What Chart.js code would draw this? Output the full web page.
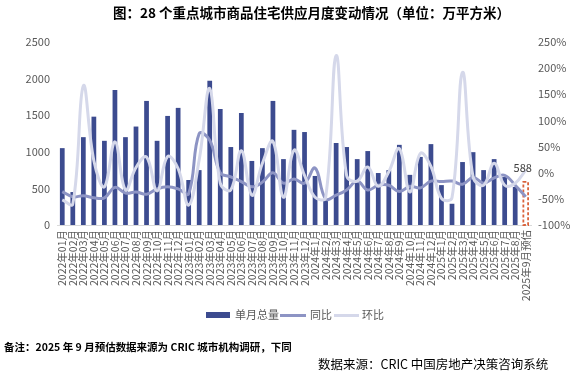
<!DOCTYPE html>
<html><head><meta charset="utf-8">
<script src="https://cdn.jsdelivr.net/npm/chart.js@4/dist/chart.umd.min.js"></script>
<style>
html,body{margin:0;padding:0;background:#fff;}
body{width:586px;height:377px;overflow:hidden;position:relative;font-family:"Noto Sans CJK SC",sans-serif;}
#c{position:absolute;left:0;top:0;}
.title{position:absolute;left:113px;top:4px;font-size:13.5px;line-height:16px;font-weight:bold;color:#000;white-space:nowrap;}
.legend{position:absolute;top:307px;left:0;width:586px;height:15px;font-size:11px;color:#595959;}
.sw{position:absolute;}
.lt{position:absolute;top:0;line-height:15px;white-space:nowrap;}
.note{position:absolute;left:4px;top:340px;font-size:10.5px;line-height:14px;font-weight:bold;color:#000;white-space:nowrap;}
.src{position:absolute;left:318px;top:356px;font-size:12.5px;line-height:16px;color:#000;white-space:nowrap;}
</style></head>
<body>
<canvas id="c" width="586" height="377"></canvas>
<div class="title">图：28 个重点城市商品住宅供应月度变动情况（单位：万平方米）</div>
<div class="legend">
  <div class="sw" style="left:206px;top:5px;width:24px;height:6px;background:#3c4b8f"></div>
  <div class="lt" style="left:235px">单月总量</div>
  <div class="sw" style="left:280px;top:7px;width:26px;height:3px;background:#8d94c4"></div>
  <div class="lt" style="left:310px">同比</div>
  <div class="sw" style="left:334px;top:7px;width:25px;height:3px;background:#d5d8ea"></div>
  <div class="lt" style="left:362px">环比</div>
</div>
<div class="note">备注：2025 年 9 月预估数据来源为 CRIC 城市机构调研，下同</div>
<div class="src">数据来源：CRIC 中国房地产决策咨询系统</div>
<script>
const categories = [
  "2022年01月","2022年02月","2022年03月","2022年04月","2022年05月","2022年06月",
  "2022年07月","2022年08月","2022年09月","2022年10月","2022年11月","2022年12月",
  "2023年01月","2023年02月","2023年03月","2023年04月","2023年05月","2023年06月",
  "2023年07月","2023年08月","2023年09月","2023年10月","2023年11月","2023年12月",
  "2024年1月","2024年2月","2024年3月","2024年4月","2024年5月","2024年6月",
  "2024年7月","2024年8月","2024年9月","2024年10月","2024年11月","2024年12月",
  "2025年1月","2025年2月","2025年3月","2025年4月","2025年5月","2025年6月",
  "2025年7月","2025年8月","2025年9月预估"
];
const monthlyTotal = [
  1050,450,1200,1480,1150,1845,1200,1345,1695,1150,1490,1600,
  615,750,1970,1585,1065,1530,875,1050,1695,900,1300,1270,
  670,350,1120,1065,900,1010,710,750,1095,685,930,1105,
  545,290,860,995,750,900,655,520,588
];
const yoyPct = [
  -36,-46,-44,-48,-48,-28,-39,-37,-41,-31,-27,-31,
  -40,75,62,0,-8,-17,-27,-18,0,-20,-12,-20,
  9,-50,-43,-33,-16,-33,-24,-24,-36,-26,-29,-16,
  -17,-16,-22,-9,-20,-10,-5,-24,-46
];
const momPct = [
  -52,-60,166,23,-27,59,-33,10,30,-35,31,8,
  -62,25,161,-20,-33,42,-43,18,60,-47,43,-5,
  -47,-48,224,-6,-16,11,-26,2,46,-37,37,12,
  -49,-48,192,-8,-24,18,-24,-20,5
];
const leftTicks = [0,500,1000,1500,2000,2500];
const rightTicks = [-100,-50,0,50,100,150,200,250];

const BAR = '#3c4b8f', YOY = '#8d94c4', MOM = '#d5d8ea', EST = '#d9623b';
const lastIdx = monthlyTotal.length - 1;

const estimatePlugin = {
  id: 'estimate',
  afterDatasetDraw(chart, args) {
    if (args.index !== 0) return;
    const el = args.meta.data[lastIdx];
    const p = el.getProps(['x','y','base','width'], true);
    const ctx = chart.ctx;
    ctx.save();
    ctx.fillStyle = '#ffffff';
    ctx.fillRect(p.x - p.width/2, p.y, p.width, p.base - p.y);
    ctx.setLineDash([3,2]);
    ctx.strokeStyle = EST;
    ctx.lineWidth = 1.8;
    ctx.strokeRect(p.x - p.width/2, p.y, p.width, p.base - p.y);
    ctx.restore();
  },
  afterDatasetsDraw(chart) {
    const el = chart.getDatasetMeta(0).data[lastIdx];
    const p = el.getProps(['x','y'], true);
    const ctx = chart.ctx;
    ctx.save();
    ctx.font = '11px "Noto Sans CJK SC"';
    ctx.fillStyle = '#404040';
    ctx.textAlign = 'center';
    ctx.textBaseline = 'alphabetic';
    ctx.fillText(String(monthlyTotal[lastIdx]), p.x - 3, p.y - 10);
    ctx.restore();
  }
};

Chart.defaults.font.family = '"Noto Sans CJK SC", sans-serif';
Chart.defaults.color = '#595959';

new Chart(document.getElementById('c'), {
  data: {
    labels: categories,
    datasets: [
      { type:'bar', label:'单月总量', data: monthlyTotal, yAxisID:'y', order:3,
        backgroundColor: monthlyTotal.map((v,i)=> i===lastIdx ? 'rgba(0,0,0,0)' : BAR),
        barPercentage:0.45, categoryPercentage:1.0, borderWidth:0 },
      { type:'line', label:'同比', data: yoyPct, yAxisID:'y1', order:2,
        borderColor: YOY, borderWidth:3, tension:0.4, pointRadius:0, fill:false },
      { type:'line', label:'环比', data: momPct, yAxisID:'y1', order:1,
        borderColor: MOM, borderWidth:3, tension:0.4, pointRadius:0, fill:false }
    ]
  },
  options: {
    responsive:false, animation:false, devicePixelRatio:1,
    layout:{ padding:{ left:0, right:0, top:42, bottom:72 } },
    plugins:{ legend:{display:false}, tooltip:{enabled:false}, title:{display:false} },
    scales:{
      x:{
        grid:{display:false, drawTicks:false},
        border:{display:true, color:'#d9d9d9', width:1},
        ticks:{ autoSkip:false, minRotation:90, maxRotation:90, padding:5, font:{size:10.5}, color:'#595959' },
        afterFit(s){ s.height = 80; }
      },
      y:{
        position:'left', min:0, max:2500,
        grid:{display:false, drawTicks:false}, border:{display:false},
        afterBuildTicks(s){ s.ticks = leftTicks.map(v=>({value:v})); },
        ticks:{ padding:7, font:{size:11}, color:'#595959', callback:(v)=> String(v) },
        afterFit(s){ s.width = 57; }
      },
      y1:{
        position:'right', min:-100, max:250,
        grid:{display:false, drawTicks:false}, border:{display:false},
        afterBuildTicks(s){ s.ticks = rightTicks.map(v=>({value:v})); },
        ticks:{ padding:7, font:{size:11}, color:'#595959', callback:(v)=> v + '%' },
        afterFit(s){ s.width = 55; }
      }
    }
  },
  plugins:[estimatePlugin]
});
</script>
</body></html>
